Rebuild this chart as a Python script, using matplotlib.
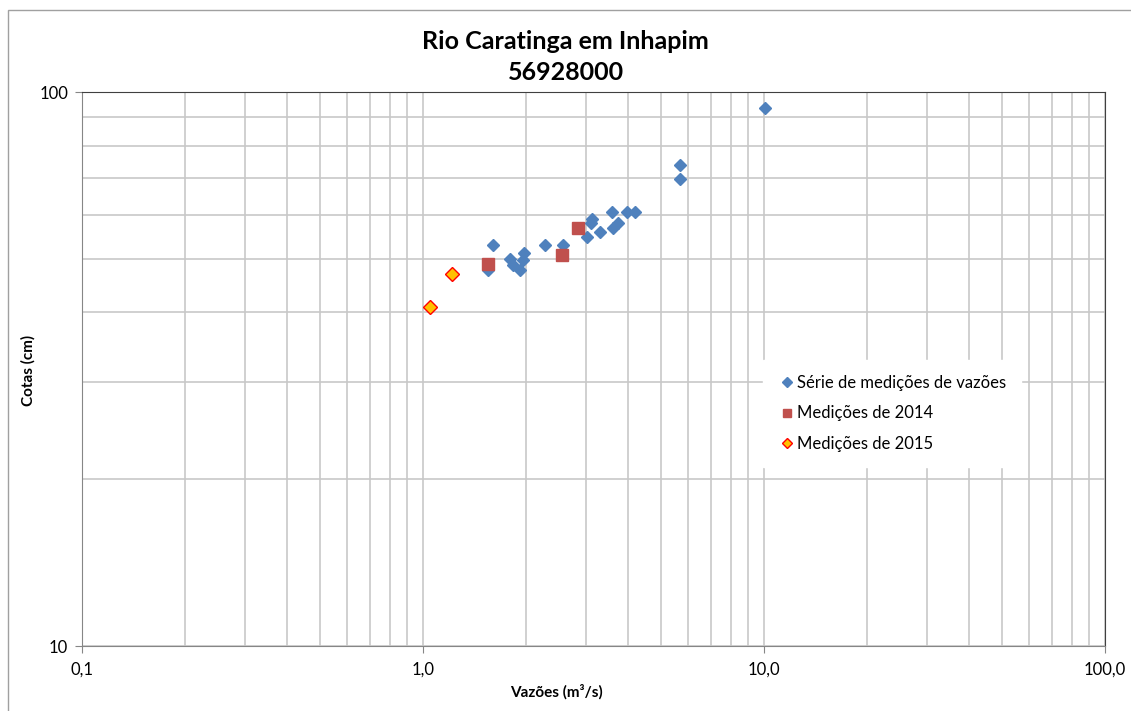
import matplotlib.pyplot as plt
from matplotlib.ticker import FixedLocator, FixedFormatter, NullFormatter
import matplotlib.patches as patches

# Série de medições de vazões
serie_q = [1.55, 1.60, 1.80, 1.84, 1.92, 1.96, 1.98, 2.28, 2.58, 3.02, 3.10, 3.13,
           3.31, 3.58, 3.61, 3.74, 3.97, 4.18, 5.67, 5.67, 10.1]
serie_h = [47.7, 52.9, 49.9, 48.7, 47.7, 49.8, 51.2, 52.9, 52.9, 54.8, 57.9, 59.0,
           56.0, 60.8, 56.8, 57.9, 60.8, 60.8, 73.8, 69.6, 93.6]

# Medições de 2014
m2014_q = [1.55, 2.56, 2.84]
m2014_h = [48.9, 50.8, 56.8]

# Medições de 2015
m2015_q = [1.05, 1.22]
m2015_h = [40.9, 46.9]

x_ticks = [0.1, 1, 10, 100]
x_labels = ["0,1", "1,0", "10,0", "100,0"]
y_ticks = [10, 100]
y_labels = ["10", "100"]

plt.rcParams['font.family'] = ['Lato', 'DejaVu Sans']

fig = plt.figure(figsize=(11.31, 7.11), dpi=100)
ax = fig.add_axes([0.0725, 0.0914, 0.9045, 0.7792])

# outer chart border (cut off at right/bottom like the original)
fig.add_artist(patches.Rectangle((8 / 1131, -0.1), 1.2, (711 - 10) / 711 + 0.1,
                                 transform=fig.transFigure, fill=False,
                                 edgecolor="#a0a0a0", linewidth=1))

ax.plot(serie_q, serie_h, linestyle="none", marker="D", markersize=6.3,
        color="#4F81BD", markeredgecolor="#4F81BD", label="Série de medições de vazões", zorder=3)
ax.plot(m2014_q, m2014_h, linestyle="none", marker="s", markersize=8.5,
        color="#C0504D", markeredgecolor="#C0504D", label="Medições de 2014", zorder=4)
ax.plot(m2015_q, m2015_h, linestyle="none", marker="D", markersize=7,
        color="#FFC000", markeredgecolor="#FF0000", markeredgewidth=1, label="Medições de 2015", zorder=5)

ax.set_xscale("log")
ax.set_yscale("log")
ax.set_xlim(0.1, 100)
ax.set_ylim(10, 100)

ax.xaxis.set_major_locator(FixedLocator(x_ticks))
ax.xaxis.set_major_formatter(FixedFormatter(x_labels))
ax.yaxis.set_major_locator(FixedLocator(y_ticks))
ax.yaxis.set_major_formatter(FixedFormatter(y_labels))
ax.xaxis.set_minor_formatter(NullFormatter())
ax.yaxis.set_minor_formatter(NullFormatter())

ax.grid(which="both", color="#c8c8c8", linewidth=1.2)
ax.set_axisbelow(True)
ax.tick_params(which="major", direction="out", length=5, color="#868686", labelsize=12, pad=5)
ax.tick_params(which="minor", length=0)
ax.tick_params(axis="x", pad=6)

for side in ["left", "bottom"]:
    ax.spines[side].set_color("#868686")
for side in ["top", "right"]:
    ax.spines[side].set_color("#404040")

fig.text(556 / 1131, 1 - 692 / 711, "Vazões (m³/s)", ha="center", va="center",
         fontsize=11, fontweight="bold")
fig.text(28 / 1131, 1 - 370 / 711, "Cotas (cm)", ha="center", va="center",
         fontsize=11, fontweight="bold", rotation=90)
fig.text(0.5, 1 - 57 / 711, "Rio Caratinga em Inhapim\n56928000", ha="center", va="center",
         fontsize=18, fontweight="bold", linespacing=1.4)

leg = ax.legend(loc="upper left", bbox_to_anchor=(0.658, 0.531), frameon=True, fontsize=12,
                handletextpad=0.1, handlelength=1.0, labelspacing=0.85, borderpad=0.9,
                markerscale=0.75, fancybox=False)
leg.get_frame().set_edgecolor("white")
leg.get_frame().set_facecolor("white")
leg.get_frame().set_alpha(1)

plt.savefig("out.png", dpi=100)
